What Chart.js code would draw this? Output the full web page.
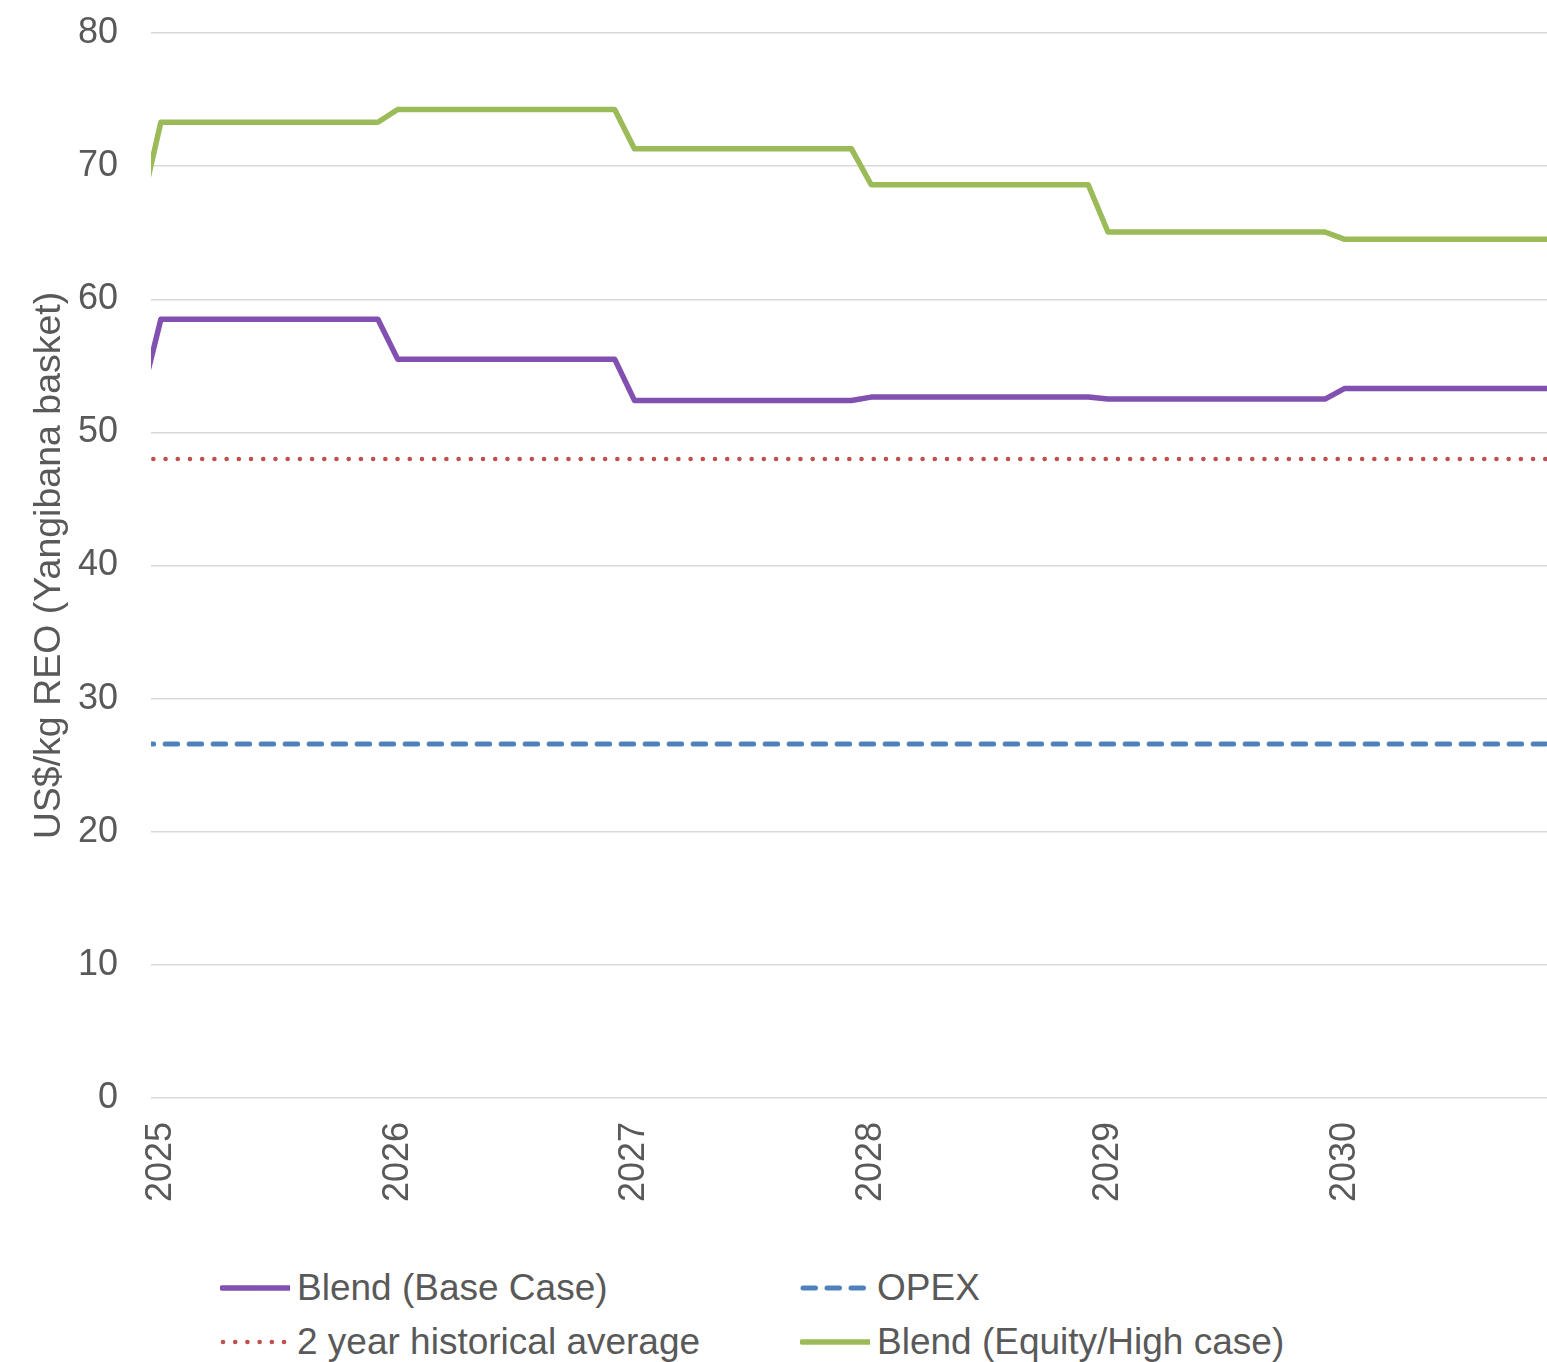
<!DOCTYPE html>
<html>
<head>
<meta charset="utf-8">
<script src="https://cdn.jsdelivr.net/npm/chart.js@4"></script>
<style>
  body { margin:0; background:#fff; width:1547px; height:1362px; overflow:hidden; position:relative;
         font-family:"Liberation Sans", Arial, sans-serif; }
  #wrap { position:absolute; left:0; top:0; width:1547px; height:1250px; }
  .leg { position:absolute; display:flex; align-items:center; height:37px; font-size:37px; line-height:37px;
         color:#595959; white-space:nowrap; }
  .leg svg { margin-right:7px; display:block; }
</style>
</head>
<body>
<div id="wrap"><canvas id="c" width="1547" height="1250"></canvas></div>
<div id="legend"></div>
<script>
// ---- data (months counted from Jan 2025 = 0) ----
const monthIndex = [-1,
  0,1,2,3,4,5,6,7,8,9,10,11,
  12,13,14,15,16,17,18,19,20,21,22,23,
  24,25,26,27,28,29,30,31,32,33,34,35,
  36,37,38,39,40,41,42,43,44,45,46,47,
  48,49,50,51,52,53,54,55,56,57,58,59,
  60,61,62,63,64,65,66,67,68,69,70,71];

const baseCase = [52.5,
  58.5,58.5,58.5,58.5,58.5,58.5,58.5,58.5,58.5,58.5,58.5,58.5,
  55.5,55.5,55.5,55.5,55.5,55.5,55.5,55.5,55.5,55.5,55.5,55.5,
  52.4,52.4,52.4,52.4,52.4,52.4,52.4,52.4,52.4,52.4,52.4,52.4,
  52.65,52.65,52.65,52.65,52.65,52.65,52.65,52.65,52.65,52.65,52.65,52.65,
  52.5,52.5,52.5,52.5,52.5,52.5,52.5,52.5,52.5,52.5,52.5,52.5,
  53.3,53.3,53.3,53.3,53.3,53.3,53.3,53.3,53.3,53.3,53.3,53.3];

const highCase = [66.8,
  73.3,73.3,73.3,73.3,73.3,73.3,73.3,73.3,73.3,73.3,73.3,73.3,
  74.25,74.25,74.25,74.25,74.25,74.25,74.25,74.25,74.25,74.25,74.25,74.25,
  71.3,71.3,71.3,71.3,71.3,71.3,71.3,71.3,71.3,71.3,71.3,71.3,
  68.6,68.6,68.6,68.6,68.6,68.6,68.6,68.6,68.6,68.6,68.6,68.6,
  65.05,65.05,65.05,65.05,65.05,65.05,65.05,65.05,65.05,65.05,65.05,65.05,
  64.5,64.5,64.5,64.5,64.5,64.5,64.5,64.5,64.5,64.5,64.5,64.5];

const flatLineMonths = [-1, 71];
const opexValues = [26.6, 26.6];
const histAvgValues = [48.0, 48.0];

const yearTicks = [0, 12, 24, 36, 48, 60];
const yearLabels = ['2025', '2026', '2027', '2028', '2029', '2030'];

const seriesNames = ['Blend (Base Case)', 'OPEX', '2 year historical average', 'Blend (Equity/High case)'];
const yTitle = 'US$/kg REO (Yangibana basket)';

// ---- styling ----
const FONT = '"Liberation Sans", Arial, sans-serif';
const TXT = '#595959';
const PURPLE = '#8150B0', BLUE = '#4F81BD', RED = '#C0504D', GREEN = '#9BBB59';

const toPts = (xs, ys) => xs.map((x, i) => ({ x: x, y: ys[i] }));

const common = { pointRadius: 0, pointHoverRadius: 0, tension: 0, fill: false, clip: 0, borderJoinStyle: 'round' };

const datasets = [
  Object.assign({ label: seriesNames[0], data: toPts(monthIndex, baseCase), borderColor: PURPLE, borderWidth: 5.5, borderCapStyle: 'butt' }, common),
  Object.assign({ label: seriesNames[1], data: toPts(flatLineMonths, opexValues), borderColor: BLUE, borderWidth: 5, borderDash: [12.5, 11.5], borderCapStyle: 'round' }, common),
  Object.assign({ label: seriesNames[2], data: toPts(flatLineMonths, histAvgValues), borderColor: RED, borderWidth: 4.6, borderDash: [0.01, 12.2], borderCapStyle: 'round' }, common),
  Object.assign({ label: seriesNames[3], data: toPts(monthIndex, highCase), borderColor: GREEN, borderWidth: 5.5, borderCapStyle: 'butt' }, common)
];

const chart = new Chart(document.getElementById('c'), {
  type: 'line',
  data: { datasets: datasets },
  options: {
    responsive: false,
    animation: false,
    devicePixelRatio: 1,
    layout: { padding: { top: 33, right: 0, left: 0, bottom: 0 } },
    plugins: { legend: { display: false }, tooltip: { enabled: false } },
    scales: {
      x: {
        type: 'linear', min: -0.5, max: 70.25,
        grid: { display: false }, border: { display: false },
        afterBuildTicks: s => { s.ticks = yearTicks.map(v => ({ value: v })); },
        afterFit: s => { s.height = 152; },
        ticks: {
          autoSkip: false, maxRotation: 90, minRotation: 90, padding: 16,
          color: TXT, font: { size: 36, family: FONT },
          callback: v => yearLabels[yearTicks.indexOf(v)]
        }
      },
      y: {
        min: 0, max: 80,
        ticks: { stepSize: 10, padding: 0, color: TXT, font: { size: 36, family: FONT } },
        grid: { color: '#D9D9D9', lineWidth: 1.5, drawTicks: true, tickLength: 33, tickColor: 'rgba(0,0,0,0)' },
        border: { display: false },
        title: { display: true, text: yTitle, color: TXT, font: { size: 37.5, family: FONT }, padding: { top: 27, bottom: 0 } },
        afterFit: s => { s.width = 151; }
      }
    }
  }
});

// ---- HTML legend built from the chart's datasets ----
const legendPos = [ [220, 1269], [800, 1269], [220, 1323], [800, 1323] ];
const legendEl = document.getElementById('legend');
chart.data.datasets.forEach((ds, i) => {
  const item = document.createElement('div');
  item.className = 'leg';
  item.style.left = legendPos[i][0] + 'px';
  item.style.top = legendPos[i][1] + 'px';
  const dash = ds.borderDash ? ds.borderDash.join(',') : 'none';
  const x1 = ds.borderDash ? 3 : 2, x2 = ds.borderDash ? 68 : 69;
  item.innerHTML =
    '<svg width="70" height="12" viewBox="0 0 70 12"><line x1="' + x1 + '" y1="6" x2="' + x2 + '" y2="6" stroke="' + ds.borderColor +
    '" stroke-width="' + ds.borderWidth + '" stroke-linecap="round" stroke-dasharray="' + dash + '"/></svg>' +
    '<span></span>';
  item.querySelector('span').textContent = ds.label;
  legendEl.appendChild(item);
});
</script>
</body>
</html>
